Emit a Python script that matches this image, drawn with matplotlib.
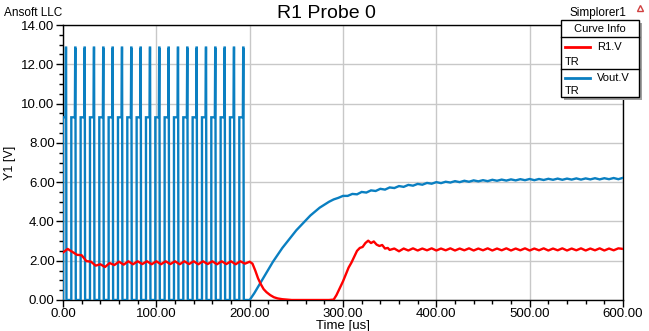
import matplotlib.pyplot as plt
from matplotlib.patches import Rectangle
from matplotlib.lines import Line2D
from matplotlib.ticker import MultipleLocator, FormatStrFormatter

plt.rcParams['font.family'] = ['Liberation Sans', 'DejaVu Sans']

# switching pulses of Vout.V (spike times in us) and their levels
spike_times = [3.2, 13.2, 23.2, 33.2, 43.2, 53.2, 63.2, 73.2, 83.2, 93.2,
               103.2, 113.2, 123.2, 133.2, 143.2, 153.2, 163.2, 173.2, 183.2, 193.2]
plateau_level = 9.3
spike_level = 12.85
plateau_len = 3.8
spike_half = 0.5

# Vout.V after switching stops (us, V)
vout_t = [200, 205, 210, 215, 220, 225, 230, 235, 240, 245, 250, 255, 260, 265, 270,
          275, 280, 285, 290, 295, 300, 305, 310, 315, 320, 325, 330, 335, 340, 345,
          350, 355, 360, 365, 370, 375, 380, 385, 390, 395, 400, 405, 410, 415, 420,
          425, 430, 435, 440, 445, 450, 455, 460, 465, 470, 475, 480, 485, 490, 495,
          500, 505, 510, 515, 520, 525, 530, 535, 540, 545, 550, 555, 560, 565, 570,
          575, 580, 585, 590, 595, 600]
vout_v = [0.0, 0.35, 0.75, 1.15, 1.55, 1.95, 2.3, 2.65, 2.95, 3.25, 3.55, 3.8, 4.05, 4.3, 4.5,
          4.7, 4.85, 5.0, 5.12, 5.2, 5.3, 5.3, 5.4, 5.38, 5.5, 5.47, 5.58, 5.55, 5.66, 5.62,
          5.73, 5.7, 5.8, 5.76, 5.86, 5.82, 5.91, 5.87, 5.96, 5.92, 6.0, 5.95, 6.02, 5.98, 6.05,
          6.0, 6.07, 6.02, 6.09, 6.04, 6.1, 6.05, 6.12, 6.07, 6.13, 6.08, 6.14, 6.09, 6.15, 6.1,
          6.16, 6.1, 6.16, 6.11, 6.17, 6.12, 6.18, 6.12, 6.18, 6.13, 6.19, 6.13, 6.19, 6.14, 6.2,
          6.14, 6.2, 6.15, 6.21, 6.15, 6.22]

# R1.V (us, V)
r1_t = [0, 5, 10, 15, 20, 25, 30, 35, 40, 45, 50, 55, 60, 65, 70, 75, 80, 85, 90, 95,
        100, 105, 110, 115, 120, 125, 130, 135, 140, 145, 150, 155, 160, 165, 170, 175, 180, 185, 190, 195,
        200, 203, 206, 209, 212, 215, 218, 222, 226, 230, 235, 240, 245, 285, 290,
        293, 296, 300, 303, 306, 309, 312, 315, 318, 321, 324, 327, 330, 333, 336, 339, 342, 345, 348,
        350, 355, 360, 365, 370, 375, 380, 385, 390, 395, 400, 405, 410, 415, 420, 425, 430, 435, 440,
        445, 450, 455, 460, 465, 470, 475, 480, 485, 490, 495, 500, 505, 510, 515, 520, 525, 530, 535,
        540, 545, 550, 555, 560, 565, 570, 575, 580, 585, 590, 595, 600]
r1_v = [2.42, 2.6, 2.45, 2.3, 2.28, 1.98, 1.95, 1.75, 1.82, 1.68, 1.88, 1.78, 1.95, 1.8, 1.97, 1.82, 1.97, 1.83, 1.97, 1.82,
        1.97, 1.82, 1.97, 1.83, 1.97, 1.82, 1.97, 1.83, 1.97, 1.82, 1.97, 1.83, 1.97, 1.82, 1.97, 1.83, 1.97, 1.82, 1.97, 1.85,
        1.95, 1.85, 1.5, 1.1, 0.8, 0.55, 0.4, 0.25, 0.14, 0.08, 0.04, 0.02, 0.0, 0.0, 0.02,
        0.25, 0.55, 0.95, 1.3, 1.65, 1.9, 2.2, 2.5, 2.65, 2.7, 2.9, 3.02, 2.9, 2.98, 2.82, 2.75, 2.8, 2.62, 2.65,
        2.55, 2.62, 2.48, 2.62, 2.52, 2.63, 2.52, 2.62, 2.53, 2.63, 2.52, 2.62, 2.53, 2.63, 2.52, 2.62, 2.53, 2.63, 2.52,
        2.62, 2.53, 2.63, 2.52, 2.62, 2.53, 2.63, 2.52, 2.62, 2.53, 2.63, 2.52, 2.62, 2.53, 2.63, 2.52, 2.62, 2.53, 2.63,
        2.52, 2.62, 2.53, 2.63, 2.52, 2.62, 2.53, 2.63, 2.52, 2.62, 2.53, 2.63, 2.6]

BLUE = '#0a7fc1'
RED = '#ff0000'
W, H = 649, 331


def fx(x):
    return x / W


def fy(y):
    return 1 - y / H


# build the switching part of Vout.V from the pulse list
sw_t = [0.0]
sw_v = [0.0]
for ts in spike_times:
    t_up = max(ts - spike_half - plateau_len, 0.0)
    sw_t += [t_up, t_up, ts - spike_half, ts - 0.1, ts + 0.1, ts + spike_half]
    sw_v += [0.0, plateau_level, plateau_level, spike_level, spike_level, 0.0]
sw_t.append(vout_t[0])
sw_v.append(0.0)
blue_t = sw_t + vout_t[1:]
blue_v = sw_v + vout_v[1:]

fig = plt.figure(figsize=(W / 100, H / 100), dpi=100)
ax = fig.add_axes([fx(63), fy(300), fx(623) - fx(63), fy(25) - fy(300)])

ax.plot(blue_t, blue_v, color=BLUE, lw=1.7, solid_joinstyle='miter', zorder=3)
ax.plot(r1_t, r1_v, color=RED, lw=1.7, zorder=4)

ax.set_xlim(0, 600)
ax.set_ylim(0, 14)
ax.xaxis.set_major_locator(MultipleLocator(100))
ax.xaxis.set_minor_locator(MultipleLocator(20))
ax.yaxis.set_major_locator(MultipleLocator(2))
ax.yaxis.set_minor_locator(MultipleLocator(0.5))
ax.xaxis.set_major_formatter(FormatStrFormatter('%.2f'))
ax.yaxis.set_major_formatter(FormatStrFormatter('%.2f'))
ax.tick_params(which='major', direction='out', length=5, width=1, labelsize=9.5, pad=1, colors='black')
ax.tick_params(which='minor', direction='out', length=3, width=1)
ax.grid(True, which='major', color='#c8c8c8', lw=1)
ax.set_axisbelow(True)
for s in ax.spines.values():
    s.set_color('black')
    s.set_linewidth(1)

ax.set_xlabel('Time [us]', fontsize=9.5, labelpad=0)
ax.set_ylabel('Y1 [V]', fontsize=9, labelpad=4)

fig.text(fx(326), fy(13), 'R1 Probe 0', fontsize=14, ha='center', va='center')
fig.text(fx(4), fy(13), 'Ansoft LLC', fontsize=8.5, ha='left', va='center')
fig.text(fx(626), fy(13), 'Simplorer1', fontsize=8.5, ha='right', va='center')
fig.add_artist(Line2D([fx(640)], [fy(8)], marker='^', markersize=5, markerfacecolor='none',
                      markeredgecolor='#d04040', markeredgewidth=1))

# "Curve Info" legend box
bx0, by0, bx1, by1 = 561, 20, 639, 97
fig.add_artist(Rectangle((fx(bx0 + 3), fy(by1 + 3)), fx(bx1 - bx0), fy(by0) - fy(by1),
                         facecolor='#a0a0a0', edgecolor='none', zorder=10))
fig.add_artist(Rectangle((fx(bx0), fy(by1)), fx(bx1 - bx0), fy(by0) - fy(by1),
                         facecolor='white', edgecolor='black', lw=1, zorder=11))
fig.text(fx(600), fy(29), 'Curve Info', fontsize=8, ha='center', va='center', zorder=12)
for yy in (37, 69):
    fig.add_artist(Line2D([fx(bx0), fx(bx1)], [fy(yy), fy(yy)], color='black', lw=1, zorder=12))
for name, col, yl, ytr in (('R1.V', RED, 47, 62), ('Vout.V', BLUE, 78, 91)):
    fig.add_artist(Line2D([fx(565), fx(590)], [fy(yl), fy(yl)], color=col, lw=2, zorder=12))
    fig.text(fx(597), fy(yl), name, fontsize=8, ha='left', va='center', zorder=12)
    fig.text(fx(565), fy(ytr), 'TR', fontsize=8, ha='left', va='center', zorder=12)

fig.savefig('out.png', dpi=100)
